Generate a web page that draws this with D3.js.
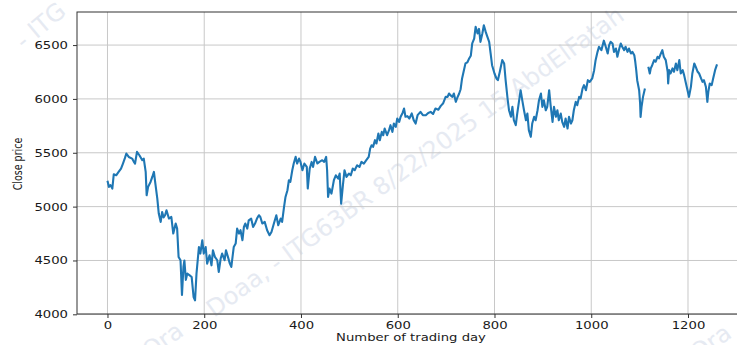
<html>
<head>
<title>Close price</title>
<script type="text/javascript" src="https://cdn.jsdelivr.net/npm/d3@7/dist/d3.min.js"></script>
<style type="text/css">
body { margin: 0; background: white; }
text { font-family: "DejaVu Sans", sans-serif; }
.grid line { stroke: #c8c8c8; stroke-width: 1; }
.axis path { display: none; }
.axis line { stroke: #333; }
.axis text { fill: #1a1a1a; font-size: 11px; }
</style>
</head>
<body>
<script>

// values (trading day -> close price), null = gap
var days = [0,3,6,10,13,18,23,28,32,36,39,44,51,54,57,61,66,72,75,79,81,84,89,93,96,99,103,106,110,113,116,119,122,127,132,136,141,144,147,151,154,157,159,162,165,170,174,178,181,184,189,192,196,199,203,206,211,215,218,222,227,230,234,237,242,245,249,253,256,261,265,268,272,275,279,282,285,289,292,297,301,305,309,313,316,320,325,330,335,339,344,349,353,358,361,365,368,372,375,378,382,385,389,392,396,399,403,407,412,414,418,422,425,429,434,438,444,448,452,454,456,459,463,468,472,477,480,483,487,490,494,499,503,507,511,516,521,525,530,535,540,543,546,549,553,556,560,563,567,570,573,578,582,585,589,592,596,599,603,606,610,613,616,620,624,629,633,637,641,647,652,658,663,668,673,678,684,689,694,699,703,706,710,713,716,720,723,727,730,733,736,740,744,747,751,754,758,761,765,768,771,775,778,782,785,789,792,795,800,804,807,811,816,820,823,827,830,834,837,840,844,847,851,854,858,861,865,868,871,875,878,882,885,889,892,896,899,902,906,909,913,916,920,923,927,930,933,937,940,944,947,951,954,958,961,964,968,971,975,978,982,985,989,993,997,1002,1006,1009,1013,1016,1021,1026,1030,1034,1037,1040,1044,1047,1051,1054,1058,1061,1064,1068,1071,1075,1078,1082,1085,1089,1091,1093,1095,1099,1101,1102,1104,1107,1111,1114,1118,1121,1123,1126,1130,1133,1137,1140,1144,1147,1150,1154,1158,1159,1161,1164,1168,1171,1175,1178,1182,1185,1189,1192,1195,1199,1202,1206,1209,1213,1216,1220,1223,1227,1230,1233,1237,1240,1242,1245,1249,1252,1256,1260];
var close = [5240,5183,5200,5168,5300,5291,5322,5353,5400,5450,5493,5461,5446,5420,5400,5508,5477,5431,5446,5322,5105,5183,5229,5280,5322,5214,5075,4936,4858,4950,4900,4920,4966,4889,4904,4750,4843,4796,4533,4502,4180,4440,4500,4320,4378,4362,4347,4161,4130,4378,4625,4564,4688,4564,4625,4471,4548,4455,4595,4533,4502,4393,4518,4564,4502,4595,4533,4471,4440,4625,4657,4796,4750,4781,4688,4811,4843,4796,4873,4889,4811,4843,4889,4920,4904,4843,4858,4780,4734,4765,4843,4920,4827,4889,4858,4997,5090,5152,5245,5230,5338,5400,5462,5400,5446,5415,5338,5400,5369,5168,5353,5415,5369,5462,5400,5415,5431,5415,5462,5338,5090,5168,5121,5245,5291,5260,5307,5028,5214,5338,5276,5307,5291,5353,5338,5384,5369,5415,5400,5431,5462,5539,5570,5555,5617,5586,5679,5617,5694,5663,5725,5663,5710,5756,5694,5772,5741,5818,5787,5834,5870,5911,5834,5840,5818,5865,5803,5771,5849,5880,5849,5849,5870,5880,5860,5911,5900,5935,5960,6019,6019,6050,6030,6019,6050,5973,6010,6050,6090,6190,6250,6330,6340,6370,6400,6515,6560,6669,6607,6650,6530,6610,6684,6620,6580,6530,6422,6313,6236,6190,6174,6252,6360,6329,6174,6004,5895,5834,5926,5802,5756,5864,5988,6081,5973,5895,5802,5864,5710,5648,5771,5834,5802,5895,5988,6050,5926,5988,5895,5926,6081,5942,5787,5926,5834,5895,5802,5864,5787,5741,5818,5725,5834,5771,5802,5895,5973,5942,6019,6004,6096,6128,6081,6174,6158,6190,6267,6360,6437,6484,6453,6541,6484,6422,6499,6530,6515,6437,6468,6391,6468,6515,6484,6453,6484,6437,6468,6422,6437,6406,6345,6267,6174,6081,5957,5833,5926,6019,6097,null,6298,6236,6283,6313,6360,6345,6391,6376,6422,6453,6391,6360,6252,6143,6267,6236,6283,6252,6329,6267,6360,6236,6267,6221,6159,6081,6019,6112,6236,6329,6298,6252,6236,6190,6159,6174,6112,5973,6066,6143,6128,6190,6267,6320];

var xTicks = [0, 200, 400, 600, 800, 1000, 1200];
var yTicks = [4000, 4500, 5000, 5500, 6000, 6500];

var width = 737, height = 345;
var svg = d3.select("body").append("svg").attr("width", width).attr("height", height);

var x = d3.scaleLinear().domain([-63, 1323]).range([77, 747.5]);
var y = d3.scaleLinear().domain([4003, 6807]).range([314, 12]);

// faint watermark
var wm = svg.append("g").attr("fill", "#e6eaf2").attr("font-size", 24);
wm.append("text").attr("transform", "translate(150,360) rotate(-36)").text("Ora");
wm.append("text").attr("transform", "translate(214,318) rotate(-36)").text("Doaa, - ITG63BR 8/22/2025 15 AbdElFatah");
wm.append("text").attr("transform", "translate(24,50) rotate(-40)").text("- ITG");
wm.append("text").attr("transform", "translate(698,362) rotate(-36)").text("Ora");

// grid
svg.append("g").attr("class", "grid").selectAll("line").data(xTicks).enter().append("line")
  .attr("x1", function(d){ return x(d); }).attr("x2", function(d){ return x(d); })
  .attr("y1", 12).attr("y2", 314);
svg.append("g").attr("class", "grid").selectAll("line").data(yTicks).enter().append("line")
  .attr("x1", 77).attr("x2", 747).attr("y1", function(d){ return y(d); }).attr("y2", function(d){ return y(d); });

// price line
var line = d3.line()
  .defined(function(d){ return d[1] != null; })
  .x(function(d){ return x(d[0]); })
  .y(function(d){ return y(d[1]); });

svg.append("path").datum(days.map(function(d, i){ return [d, close[i]]; }))
  .attr("d", line).attr("fill", "none").attr("stroke", "#1f77b4").attr("stroke-width", 2.1)
  .attr("stroke-linejoin", "round");

// frame
svg.append("rect").attr("x", 77).attr("y", 12).attr("width", 670).attr("height", 302)
  .attr("fill", "none").attr("stroke", "#333").attr("stroke-width", 1);

// axes
var gx = svg.append("g").attr("class", "axis").attr("transform", "translate(0,314)")
  .call(d3.axisBottom(x).tickValues(xTicks).tickSize(4).tickPadding(3).tickFormat(d3.format("d")));
gx.selectAll("text").attr("transform", "scale(1.2,1)")
  .attr("x", 0);

var gy = svg.append("g").attr("class", "axis").attr("transform", "translate(77,0)")
  .call(d3.axisLeft(y).tickValues(yTicks).tickSize(4).tickPadding(5).tickFormat(d3.format("d")));
gy.selectAll("text").attr("x", -7.5).attr("transform", "scale(1.2,1)");

// axis titles
svg.append("text").attr("x", 411 / 1.2).attr("y", 341.5).attr("transform", "scale(1.2,1)")
  .attr("text-anchor", "middle").attr("font-size", 11).attr("fill", "#1a1a1a")
  .text("Number of trading day");

svg.append("text").attr("transform", "translate(22,164) rotate(-90) scale(1,1.2)")
  .attr("text-anchor", "middle").attr("font-size", 9.5).attr("fill", "#1a1a1a")
  .text("Close price");

</script>
</body>
</html>
